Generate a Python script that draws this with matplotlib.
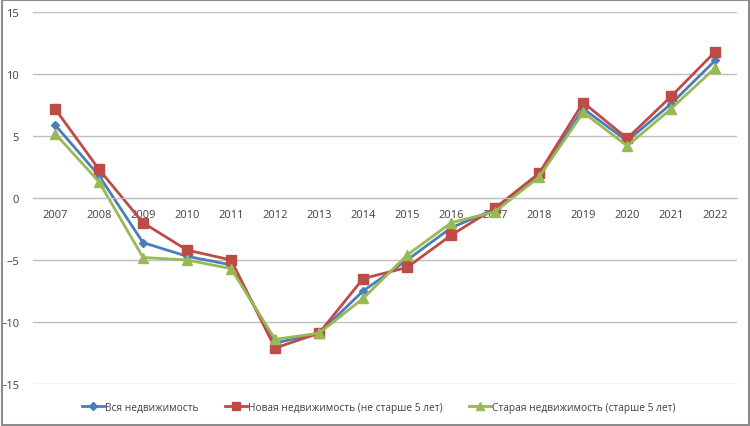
import numpy as np
import matplotlib.pyplot as plt
from matplotlib.patches import Rectangle

plt.rcParams['font.family'] = ['Open Sans', 'DejaVu Sans']

years = [str(y) for y in range(2007, 2023)]

# price change, %
all_prop = [5.9, 1.8, -3.6, -4.7, -5.4, -11.7, -10.9, -7.5, -5.0, -2.4, -0.9, 1.8, 7.2, 4.6, 7.6, 11.1]
new_prop = [7.2, 2.3, -2.0, -4.2, -5.0, -12.1, -10.9, -6.5, -5.6, -3.0, -0.8, 2.0, 7.7, 4.8, 8.2, 11.8]
old_prop = [5.2, 1.3, -4.8, -5.0, -5.7, -11.4, -10.9, -8.1, -4.6, -2.0, -1.1, 1.7, 6.9, 4.2, 7.2, 10.5]

labels = ["Вся недвижимость",
          "Новая недвижимость (не старше 5 лет)",
          "Старая недвижимость (старше 5 лет)"]

fig = plt.figure(figsize=(7.5, 4.27), dpi=100)
ax = fig.add_axes([0.044, 0.0984, 0.939, 0.8712])

x = np.arange(len(years))
ax.plot(x, all_prop, color='#4A7EBB', lw=2, marker='D', ms=4.5, label=labels[0])
ax.plot(x, new_prop, color='#BE4B48', lw=2, marker='s', ms=7, label=labels[1])
ax.plot(x, old_prop, color='#98B954', lw=2, marker='^', ms=7, label=labels[2])

ax.set_xlim(-0.5, len(years) - 0.5)
ax.set_ylim(-15, 15)
ax.set_yticks([-15, -10, -5, 0, 5, 10, 15])
ax.grid(axis='y', color='#bfbfbf', lw=1)
ax.set_axisbelow(True)

ax.set_xticks(x)
ax.set_xticklabels(years)
for s in ['top', 'right', 'left']:
    ax.spines[s].set_visible(False)
ax.spines['bottom'].set_position(('data', 0))
ax.spines['bottom'].set_color('#bfbfbf')
ax.tick_params(axis='both', length=0, labelsize=8, colors='#404040')
ax.tick_params(axis='x', pad=8)
ax.tick_params(axis='y', pad=10)

fig.legend(loc='center', bbox_to_anchor=(0.505, 0.044), ncol=3, frameon=False,
           fontsize=7.3, handlelength=2.2, handletextpad=0.1, columnspacing=2.6,
           markerscale=0.8, labelcolor='#404040')

fig.patches.append(Rectangle((0.002, 0.002), 0.996, 0.996, transform=fig.transFigure,
                             fill=False, edgecolor='#8c8c8c', lw=1.5))

fig.savefig('out.png', dpi=100)
